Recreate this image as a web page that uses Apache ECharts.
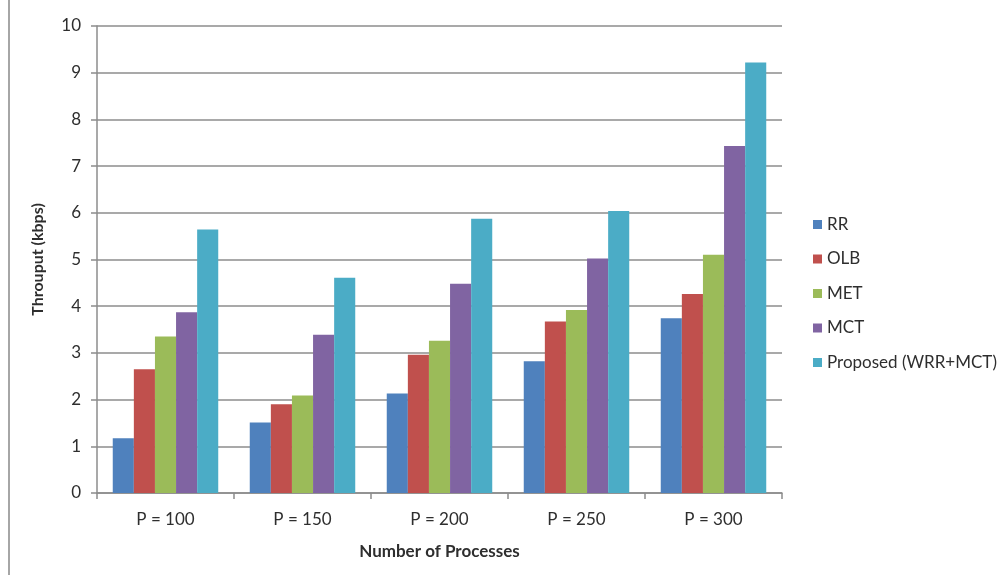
<!DOCTYPE html>
<html>
<head>
<meta charset="utf-8">
<style>
  html, body { margin: 0; padding: 0; background: #ffffff; }
  #chart { width: 1003px; height: 575px; }
</style>
<script src="https://cdn.jsdelivr.net/npm/echarts@6/dist/echarts.min.js"></script>
</head>
<body>
<div id="chart"></div>
<script>
// Throughput per scheduling algorithm for each process count
const categories = ['P = 100', 'P = 150', 'P = 200', 'P = 250', 'P = 300'];
const seriesNames = ['RR', 'OLB', 'MET', 'MCT', 'Proposed (WRR+MCT)'];
const rr       = [1.17, 1.51, 2.13, 2.82, 3.74];
const olb      = [2.65, 1.90, 2.96, 3.67, 4.26];
const met      = [3.35, 2.09, 3.26, 3.92, 5.10];
const mct      = [3.87, 3.39, 4.48, 5.02, 7.43];
const proposed = [5.64, 4.61, 5.87, 6.04, 9.22];
const yTicks = [0, 1, 2, 3, 4, 5, 6, 7, 8, 9, 10];

const colors = ['#4f81bd', '#c0504d', '#9bbb59', '#8064a2', '#4bacc6'];
const values = [rr, olb, met, mct, proposed];
const fontFamily = 'Lato, "Open Sans", sans-serif';
const textColor = '#2e2e2e';
const lineColor = '#8c8c8c';

const chart = echarts.init(document.getElementById('chart'), null, { renderer: 'canvas' });

chart.setOption({
  animation: false,
  backgroundColor: '#ffffff',
  color: colors,
  textStyle: { fontFamily: fontFamily, color: textColor },
  grid: { left: 97, right: 221, top: 26, bottom: 82, containLabel: false },
  graphic: [{
    type: 'rect',
    left: 8,
    top: 0,
    shape: { width: 2, height: 575 },
    style: { fill: '#a6a6a6' },
    silent: true
  }],
  legend: {
    orient: 'vertical',
    left: 813,
    top: 216,
    padding: 0,
    itemWidth: 9,
    itemHeight: 9,
    itemGap: 17.5,
    icon: 'rect',
    data: seriesNames,
    textStyle: { fontFamily: fontFamily, fontSize: 17, color: textColor, lineHeight: 16 }
  },
  xAxis: {
    type: 'category',
    data: categories,
    name: 'Number of Processes',
    nameLocation: 'middle',
    nameGap: 50,
    nameTextStyle: { fontFamily: fontFamily, fontSize: 17, fontWeight: 'bold', color: textColor },
    axisLine: { lineStyle: { color: lineColor, width: 1.5 } },
    axisTick: { show: true, length: 6, lineStyle: { color: lineColor, width: 1.5 } },
    axisLabel: { fontFamily: fontFamily, fontSize: 17, color: textColor, margin: 18 },
    splitLine: { show: false }
  },
  yAxis: {
    type: 'value',
    min: yTicks[0],
    max: yTicks[yTicks.length - 1],
    interval: 1,
    name: 'Throuput (kbps)',
    nameLocation: 'middle',
    nameGap: 51,
    nameRotate: 90,
    nameTextStyle: { fontFamily: fontFamily, fontSize: 16, fontWeight: 'bold', color: textColor },
    axisLine: { show: true, lineStyle: { color: lineColor, width: 1.5 } },
    axisTick: { show: true, length: 6, lineStyle: { color: lineColor, width: 1.5 } },
    axisLabel: { fontFamily: fontFamily, fontSize: 17, color: textColor, margin: 16 },
    splitLine: { show: true, lineStyle: { color: lineColor, width: 1.5 } }
  },
  series: seriesNames.map((name, i) => ({
    name: name,
    type: 'bar',
    data: values[i],
    barGap: '0%',
    barCategoryGap: '23%',
    itemStyle: { color: colors[i] }
  }))
});
</script>
</body>
</html>
